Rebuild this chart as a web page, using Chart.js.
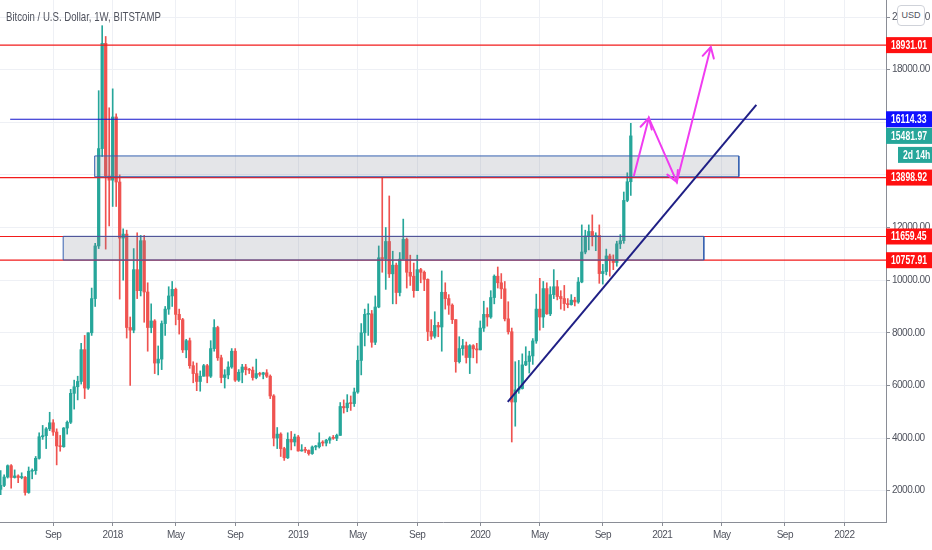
<!DOCTYPE html>
<html>
<head>
<meta charset="utf-8">
<title>Bitcoin / U.S. Dollar, 1W, BITSTAMP</title>
<script src="https://cdn.jsdelivr.net/npm/chart.js@4.4.1/dist/chart.umd.min.js"></script>
<style>
  html, body { margin: 0; padding: 0; background: #fff; }
  #wrap { position: relative; width: 932px; height: 550px; overflow: hidden; }
  #title { position: absolute; left: 6px; top: 9px; font: 13px "Liberation Sans", Arial, sans-serif; color: #50535e;
           transform: scaleX(0.74); transform-origin: left top; white-space: nowrap; }
  #usd { position: absolute; left: 897px; top: 5px; width: 26px; height: 19px; border: 1px solid #cfd2d9; border-radius: 4px;
         background: #fff; font: 9px "Liberation Sans", Arial, sans-serif; color: #50535e; text-align: center; line-height: 19px; }
</style>
</head>
<body>
<div id="wrap">
  <canvas id="chart" width="932" height="550"></canvas>
  <div id="title">Bitcoin / U.S. Dollar, 1W, BITSTAMP</div>
  <div id="usd">USD</div>
</div>
<script>
// weekly candles, first one opens on this Monday
const firstWeek = '2017-05-22';

const opens = [
  2050, 2200, 2520, 2950, 2500, 2560, 2500, 2510, 1930, 2740, 2760, 3230, 4050, 4090, 4350, 4580,
  4230, 3700, 3670, 4380, 4600, 5700, 5950, 6150, 7360, 5900, 8000, 9300, 11300, 15000, 19000, 13960,
  // 2018
  13800, 16200, 13730, 11600, 11750, 8200, 8100, 10400, 9600, 11500, 9550, 8200, 8450, 6850, 7000, 8350,
  8900, 9400, 9650, 8700, 8500, 7350, 7700, 6750, 6450, 6150, 6350, 6750, 6350, 7400, 8200, 7050,
  6300, 6400, 6700, 7300, 6200, 6500, 6700, 6600, 6580, 6300, 6450, 6420, 6480, 6350, 5600, 4000,
  4150, 3600, 3250, 3950,
  // 2019
  3850, 4040, 3510, 3540, 3530, 3410, 3660, 3670, 3820, 3810, 3920, 4000, 3990, 4100, 5200, 5150,
  5330, 5310, 5750, 6950, 8000, 8700, 8720, 7640, 8980, 10850, 10820, 11470, 10240, 10570, 9530, 10800,
  11550, 10300, 10150, 9600, 10400, 10300, 10030, 8050, 7870, 8280, 8220, 9540, 9300, 9050, 8500, 6900,
  7400, 7510, 7060, 7510,
  // 2020
  7390, 7350, 8180, 8700, 8600, 9340, 10150, 9900, 9670, 8530, 8040, 5370, 5830, 5880, 6780, 6910,
  7120, 7690, 8900, 8600, 9680, 8720, 9450, 9750, 9380, 9300, 9110, 9070, 9240, 9170, 9930, 11070,
  11680, 11850, 11650, 11700, 10250, 10330, 10920, 10770, 10670, 11380, 11500, 13030, 13740
];
const highs = [
  2760, 2600, 2980, 2990, 2790, 2600, 2680, 2540, 2900, 2830, 3300, 4200, 4480, 4400, 4980, 4700,
  4350, 4100, 4400, 4650, 5850, 6200, 6350, 7600, 7900, 8000, 9700, 11400, 17200, 19670, 19260, 16550,
  17270, 16320, 14000, 11950, 11900, 8600, 11200, 11800, 11700, 11700, 9900, 9100, 8500, 7500, 8450, 9000,
  9750, 9950, 9700, 8900, 8550, 7750, 7800, 6900, 6850, 6550, 6800, 6800, 7700, 8500, 8250, 7150,
  6600, 6900, 7400, 7400, 6600, 6800, 6800, 6650, 6700, 7000, 6500, 6500, 6600, 6400, 5650, 4400,
  4200, 3650, 4200, 4250,
  4150, 4100, 3750, 3650, 3550, 3700, 3720, 4200, 3900, 3950, 4050, 4100, 4150, 5350, 5450, 5650,
  5600, 5900, 7500, 8350, 8900, 9100, 8850, 9400, 11300, 13880, 12000, 13200, 11100, 10650, 11050, 12320,
  11600, 10950, 10650, 10950, 10450, 10350, 10050, 8500, 8800, 8400, 10350, 9900, 9450, 9100, 8500, 7850,
  7750, 7650, 7550, 7550,
  7600, 8450, 9200, 8950, 9600, 10200, 10500, 10250, 9950, 9180, 8180, 6900, 6950, 7200, 7470, 7300,
  7780, 9470, 10070, 9950, 9900, 9750, 10400, 9990, 9600, 9800, 9300, 9450, 9350, 10100, 12100, 11900,
  12100, 12480, 11800, 12100, 10600, 11180, 10990, 10960, 11480, 11730, 13350, 14080, 15960
];
const lows = [
  1850, 2150, 2480, 2100, 2480, 2300, 2450, 1830, 1900, 2450, 2620, 3200, 3950, 3600, 4280, 4100,
  2980, 3500, 3650, 4150, 4550, 5100, 5450, 6050, 5500, 5850, 7900, 9000, 11200, 14700, 11180, 12060,
  12800, 12800, 9280, 10000, 7800, 6000, 8000, 9300, 9400, 8400, 7300, 8000, 6450, 6400, 6600, 7900,
  8700, 9000, 8300, 7950, 7250, 7050, 6650, 6100, 5800, 5780, 6350, 6100, 6300, 7300, 6950, 6100,
  5900, 6250, 6650, 6150, 6150, 6100, 6400, 6450, 6200, 6250, 6350, 6250, 6300, 5500, 3700, 3600,
  3300, 3150, 3220, 3550,
  3700, 3500, 3500, 3450, 3350, 3380, 3550, 3620, 3700, 3700, 3800, 3950, 3900, 4100, 4950, 5000,
  5050, 5200, 5700, 6400, 7500, 7900, 7450, 7550, 8950, 10300, 9650, 10100, 9100, 9100, 9400, 10800,
  9700, 9800, 9350, 9600, 9900, 9600, 7700, 7750, 7800, 7850, 7300, 8900, 8700, 8350, 6500, 6850,
  7150, 6850, 6450, 7050,
  6850, 7350, 8050, 8250, 8550, 9100, 9700, 9300, 8450, 7950, 3850, 4450, 5700, 5860, 6750, 6470,
  6800, 7600, 8100, 8200, 8700, 8650, 9300, 9250, 8900, 8850, 8950, 9050, 9020, 9120, 9900, 11000,
  11150, 11300, 11120, 9880, 9850, 10200, 10150, 10400, 10530, 11200, 11400, 12980, 13220
];
const closes = [
  2200, 2520, 2950, 2500, 2560, 2500, 2510, 1930, 2740, 2760, 3230, 4050, 4090, 4350, 4580, 4230,
  3700, 3670, 4380, 4600, 5700, 5950, 6150, 7360, 5900, 8000, 9300, 11300, 15000, 19000, 13960, 13800,
  16200, 13730, 11600, 11750, 8200, 8100, 10400, 9600, 11500, 9550, 8200, 8450, 6850, 7000, 8350, 8900,
  9400, 9650, 8700, 8500, 7350, 7700, 6750, 6450, 6150, 6350, 6750, 6350, 7400, 8200, 7050, 6300,
  6400, 6700, 7300, 6200, 6500, 6700, 6600, 6580, 6300, 6450, 6420, 6480, 6350, 5600, 4000, 4150,
  3600, 3250, 3950, 3850,
  4040, 3510, 3540, 3530, 3410, 3660, 3670, 3820, 3810, 3920, 4000, 3990, 4100, 5200, 5150, 5330,
  5310, 5750, 6950, 8000, 8700, 8720, 7640, 8980, 10850, 10820, 11470, 10240, 10570, 9530, 10800, 11550,
  10300, 10150, 9600, 10400, 10300, 10030, 8050, 7870, 8280, 8220, 9540, 9300, 9050, 8500, 6900, 7400,
  7510, 7060, 7510, 7390,
  7350, 8180, 8700, 8600, 9340, 10150, 9900, 9670, 8530, 8040, 5370, 5830, 5880, 6780, 6910, 7120,
  7690, 8900, 8600, 9680, 8720, 9450, 9750, 9380, 9300, 9110, 9070, 9240, 9170, 9930, 11070, 11680,
  11850, 11650, 11700, 10250, 10330, 10920, 10770, 10670, 11380, 11500, 13030, 13740, 15481.97
];

// time axis labels (first weekly bar of each month)
const tickDates = ['2017-09-04', '2018-01-01', '2018-05-07', '2018-09-03', '2019-01-07', '2019-05-06', '2019-09-02',
                   '2020-01-06', '2020-05-04', '2020-09-07', '2021-01-04', '2021-05-03', '2021-09-06', '2022-01-03'];
const tickLabels = ['Sep', '2018', 'May', 'Sep', '2019', 'May', 'Sep', '2020', 'May', 'Sep', '2021', 'May', 'Sep', '2022'];
const priceTicks = [2000, 4000, 6000, 8000, 10000, 12000, 14000, 16000, 18000, 20000];

// drawings
const redLevels = [18931.01, 13898.92, 11659.45, 10757.91];
const blueLevel = 16114.33;
const blueLevelFrom = '2017-06-10';
const lastPrice = 15481.97;
const countdown = '2d 14h';
const zoneStarts = ['2017-11-26', '2017-09-24'];
const zoneEnds = ['2021-06-06', '2021-03-28'];
const zoneTops = [14720, 11665];
const zoneBottoms = [13930, 10765];
const trendDates = ['2020-03-01', '2021-07-11'];
const trendPrices = [5373, 16657];
const pathDates = ['2020-11-08', '2020-12-08', '2021-02-02', '2021-04-11'];
const pathPrices = [13959, 16163, 13731, 18860];

const UP = '#26a69a', DOWN = '#ef5350';

function weekOf(d) {
    return (Date.parse(d) - Date.parse('2018-01-01')) / 6048e5;
}

const w0 = weekOf(firstWeek);
const wicks = [], bodies = [], colors = [];
for (let i = 0; i < closes.length; i++) {
    wicks.push({ x: w0 + i, y: [lows[i], highs[i]] });
    bodies.push({ x: w0 + i, y: [Math.min(opens[i], closes[i]), Math.max(opens[i], closes[i])] });
    colors.push(closes[i] >= opens[i] ? UP : DOWN);
}
const tickWeeks = tickDates.map(weekOf);

function lineSet(label, pts, color, width, extra) {
    return Object.assign({
        type: 'line', label: label, data: pts, borderColor: color, borderWidth: width,
        pointRadius: 0, fill: false, tension: 0
    }, extra || {});
}

const datasets = [];
datasets.push(lineSet('path', pathDates.map((d, i) => ({ x: weekOf(d), y: pathPrices[i] })), '#f03cf0', 2));
datasets.push(lineSet('trend', trendDates.map((d, i) => ({ x: weekOf(d), y: trendPrices[i] })), '#1f1f85', 2));
zoneTops.forEach((top, i) => {
    const x0 = weekOf(zoneStarts[i]), x1 = weekOf(zoneEnds[i]), bot = zoneBottoms[i];
    datasets.push(lineSet('zone outline', [
        { x: x0, y: bot }, { x: x0, y: top }, { x: x1, y: top }, { x: x1, y: bot }, { x: x0, y: bot }
    ], '#3560b0', 1));
    datasets.push(lineSet('zone fill', [{ x: x0, y: top }, { x: x1, y: top }], 'rgba(0,0,0,0)', 0, {
        fill: { value: bot }, backgroundColor: 'rgba(120,123,140,0.2)'
    }));
});
datasets.push(lineSet('blue level', [{ x: weekOf(blueLevelFrom), y: blueLevel }, { x: 260, y: blueLevel }], '#1515cc', 1.2));
redLevels.forEach(v => {
    datasets.push(lineSet('red level', [{ x: -60, y: v }, { x: 260, y: v }], '#f21b1b', 1.2));
});
datasets.push({ type: 'bar', label: 'bodies', data: bodies, backgroundColor: colors, barThickness: 2.6, grouped: false, minBarLength: 1 });
datasets.push({ type: 'bar', label: 'wicks', data: wicks, backgroundColor: colors, barThickness: 1, grouped: false });

// tighter letter spacing for the axis labels
const tightText = {
    id: 'tightText',
    beforeDraw(chart) { chart.ctx.letterSpacing = '-0.5px'; }
};

// open arrowheads at the vertices of the projected path
const arrowHeads = {
    id: 'arrowHeads',
    afterDatasetsDraw(chart) {
        const meta = chart.getDatasetMeta(0);
        const ctx = chart.ctx;
        ctx.save();
        ctx.strokeStyle = '#f03cf0';
        ctx.lineWidth = 2;
        ctx.lineCap = 'round';
        for (let i = 1; i < meta.data.length; i++) {
            const p = meta.data[i], q = meta.data[i - 1];
            const a = Math.atan2(p.y - q.y, p.x - q.x);
            ctx.beginPath();
            ctx.moveTo(p.x - 12 * Math.cos(a - 0.5), p.y - 12 * Math.sin(a - 0.5));
            ctx.lineTo(p.x, p.y);
            ctx.lineTo(p.x - 12 * Math.cos(a + 0.5), p.y - 12 * Math.sin(a + 0.5));
            ctx.stroke();
        }
        ctx.restore();
    }
};

// price tags on the right axis
const priceTags = {
    id: 'priceTags',
    afterDraw(chart) {
        const ctx = chart.ctx, y = chart.scales.y, left = chart.chartArea.right, right = chart.width;
        function tag(value, text, bg, x0, dy) {
            const cy = y.getPixelForValue(value) + (dy || 0);
            ctx.fillStyle = bg;
            ctx.fillRect(x0, cy - 8, right - x0, 16);
            ctx.save();
            ctx.translate(x0 + 5, cy + 0.5);
            ctx.scale(0.72, 1);
            ctx.letterSpacing = '0px';
            ctx.fillStyle = '#fff';
            ctx.font = '600 12px "Liberation Sans", Arial, sans-serif';
            ctx.textBaseline = 'middle';
            ctx.textAlign = 'left';
            ctx.fillText(text, 0, 0);
            ctx.restore();
        }
        ctx.save();
        redLevels.forEach(v => tag(v, v.toFixed(2), '#ff1010', left));
        tag(blueLevel, blueLevel.toFixed(2), '#1010ff', left);
        tag(lastPrice, lastPrice.toFixed(2), '#26a69a', left);
        tag(lastPrice, countdown, '#26a69a', left + 12, 19);
        ctx.restore();
    }
};

Chart.defaults.font.family = '"Liberation Sans", Arial, sans-serif';

new Chart(document.getElementById('chart'), {
    type: 'bar',
    data: { datasets: datasets },
    options: {
        responsive: false,
        animation: false,
        layout: { padding: 0 },
        plugins: { legend: { display: false }, tooltip: { enabled: false }, title: { display: false } },
        scales: {
            x: {
                type: 'linear',
                min: -32.19,
                max: 220.9,
                offset: false,
                afterBuildTicks: scale => { scale.ticks = tickWeeks.map(v => ({ value: v })); },
                afterFit: scale => { scale.height = 28; scale.paddingLeft = 0; scale.paddingRight = 0; },
                ticks: {
                    autoSkip: false, maxRotation: 0, padding: 3, color: '#50535e', font: { size: 10 },
                    callback: (value, i) => tickLabels[i]
                },
                grid: { color: '#eef0f5', tickColor: '#8a8d96', tickLength: 4, offset: false },
                border: { color: '#8a8d96' }
            },
            y: {
                type: 'linear',
                position: 'right',
                min: 810,
                max: 20646,
                afterBuildTicks: scale => { scale.ticks = priceTicks.map(v => ({ value: v })); },
                afterFit: scale => { scale.width = 46; scale.paddingTop = 0; scale.paddingBottom = 0; },
                ticks: {
                    padding: 2, color: '#50535e', font: { size: 10 },
                    callback: v => v.toFixed(2)
                },
                grid: { color: '#eef0f5', tickColor: '#8a8d96', tickLength: 4 },
                border: { color: '#8a8d96' }
            }
        }
    },
    plugins: [tightText, arrowHeads, priceTags]
});
</script>
</body>
</html>
